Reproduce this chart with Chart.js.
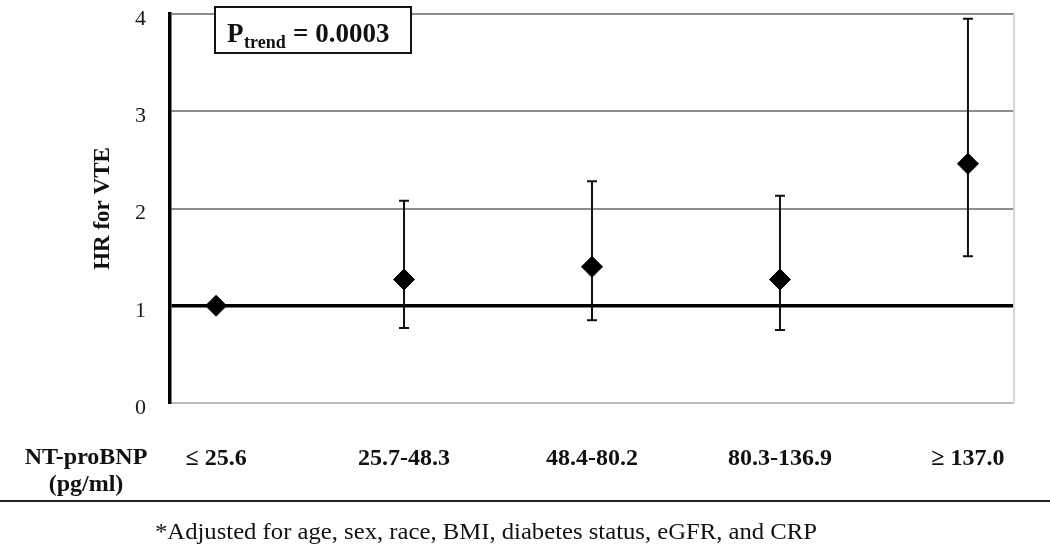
<!DOCTYPE html>
<html><head><meta charset="utf-8">
<script src="https://cdn.jsdelivr.net/npm/chart.js@4.4.0/dist/chart.umd.min.js"></script>
<style>html,body{margin:0;padding:0;background:#fff;}canvas{display:block;}</style>
</head><body>
<canvas id="c" width="1050" height="556"></canvas>
<script>
const categories = ['\u2264 25.6', '25.7-48.3', '48.4-80.2', '80.3-136.9', '\u2265 137.0'];
const hazardRatios = [1.00, 1.27, 1.40, 1.27, 2.46];
const ciLower = [null, 0.77, 0.85, 0.75, 1.51];
const ciUpper = [null, 2.08, 2.28, 2.13, 3.95];
const yTicks = [0, 1, 2, 3, 4];
const xAxisTitle = ['NT-proBNP', '(pg/ml)'];
const yAxisTitle = 'HR for VTE';
const pTrendValue = '0.0003';
const footnote = '*Adjusted for age, sex, race, BMI, diabetes status, eGFR, and CRP';

const SERIF = '"Liberation Serif", "Times New Roman", serif';

const extras = {
  id: 'extras',
  beforeDatasetsDraw(chart) {
    const {ctx, chartArea: a, scales: {x, y}} = chart;
    ctx.save();
    ctx.strokeStyle = '#d6d6d6'; ctx.lineWidth = 2;
    ctx.beginPath(); ctx.moveTo(a.right, a.top); ctx.lineTo(a.right, a.bottom); ctx.stroke();
    ctx.strokeStyle = '#111'; ctx.lineWidth = 2;
    categories.forEach((c, i) => {
      if (ciLower[i] == null) return;
      const px = x.getPixelForValue(i);
      const yl = y.getPixelForValue(ciLower[i]);
      const yu = y.getPixelForValue(ciUpper[i]);
      ctx.beginPath();
      ctx.moveTo(px, yl); ctx.lineTo(px, yu);
      ctx.moveTo(px - 5, yl); ctx.lineTo(px + 5, yl);
      ctx.moveTo(px - 5, yu); ctx.lineTo(px + 5, yu);
      ctx.stroke();
    });
    ctx.restore();
  },
  afterDraw(chart) {
    const {ctx, chartArea: a} = chart;
    ctx.save();
    ctx.fillStyle = '#111';
    // y title
    ctx.save();
    ctx.translate(103, (a.top + a.bottom) / 2);
    ctx.rotate(-Math.PI / 2);
    ctx.font = 'bold 23px ' + SERIF;
    ctx.textAlign = 'center'; ctx.textBaseline = 'middle';
    ctx.fillText(yAxisTitle, 0, 0);
    ctx.restore();
    // x title
    ctx.font = 'bold 24px ' + SERIF;
    ctx.textAlign = 'center'; ctx.textBaseline = 'alphabetic';
    ctx.fillText(xAxisTitle[0], 86, 464);
    ctx.fillText(xAxisTitle[1], 86, 491);
    // P trend box
    ctx.fillStyle = '#fff';
    ctx.fillRect(215, 7, 196, 46);
    ctx.strokeStyle = '#111'; ctx.lineWidth = 2;
    ctx.strokeRect(215, 7, 196, 46);
    ctx.fillStyle = '#111';
    ctx.textAlign = 'left';
    ctx.font = 'bold 27px ' + SERIF;
    ctx.fillText('P', 227, 42);
    ctx.font = 'bold 18px ' + SERIF;
    ctx.fillText('trend', 244, 48);
    ctx.font = 'bold 27px ' + SERIF;
    ctx.fillText('= ' + pTrendValue, 293, 42);
    // separator
    ctx.strokeStyle = '#222'; ctx.lineWidth = 2;
    ctx.beginPath(); ctx.moveTo(0, 501); ctx.lineTo(1050, 501); ctx.stroke();
    // footnote
    ctx.font = '24px ' + SERIF;
    const w = ctx.measureText(footnote).width;
    ctx.save();
    ctx.translate(155, 539);
    ctx.scale(662 / w, 1);
    ctx.fillText(footnote, 0, 0);
    ctx.restore();
    ctx.restore();
  }
};

new Chart(document.getElementById('c'), {
  type: 'scatter',
  data: {
    datasets: [{
      data: hazardRatios.map((v, i) => ({x: i, y: v})),
      pointStyle: 'rectRot',
      pointRadius: 10.5,
      pointHoverRadius: 10.5,
      backgroundColor: '#000',
      borderColor: '#000',
      borderWidth: 1,
      showLine: false
    }]
  },
  options: {
    responsive: false,
    devicePixelRatio: 1,
    animation: false,
    layout: {padding: {top: 14, right: 36, left: 0, bottom: 0}},
    plugins: {legend: {display: false}, tooltip: {enabled: false}},
    scales: {
      x: {
        type: 'linear',
        min: -0.245,
        max: 4.245,
        afterBuildTicks: s => { s.ticks = categories.map((c, i) => ({value: i})); },
        afterFit: s => { s.height = 153; s.paddingLeft = 0; s.paddingRight = 0; },
        grid: {display: false, drawTicks: false},
        border: {display: false},
        ticks: {
          callback: v => categories[v] ?? '',
          font: {family: SERIF, size: 24, weight: 'bold'},
          color: '#111',
          padding: 41,
          maxRotation: 0,
          autoSkip: false
        }
      },
      y: {
        min: 0,
        max: 4,
        afterBuildTicks: s => { s.ticks = yTicks.map(v => ({value: v})); },
        afterFit: s => { s.width = 170; s.paddingTop = 0; s.paddingBottom = 0; },
        grid: {
          drawTicks: false,
          color: c => c.tick.value === 1 ? '#000' : (c.tick.value === 0 ? '#bdbdbd' : '#8c8c8c'),
          lineWidth: c => c.tick.value === 1 ? 3.5 : 2
        },
        border: {display: true, color: '#000', width: 3.5},
        ticks: {
          font: {family: SERIF, size: 22},
          color: '#1a1a1a',
          padding: 24,
          labelOffset: 5
        }
      }
    }
  },
  plugins: [extras]
});
</script>
</body></html>
